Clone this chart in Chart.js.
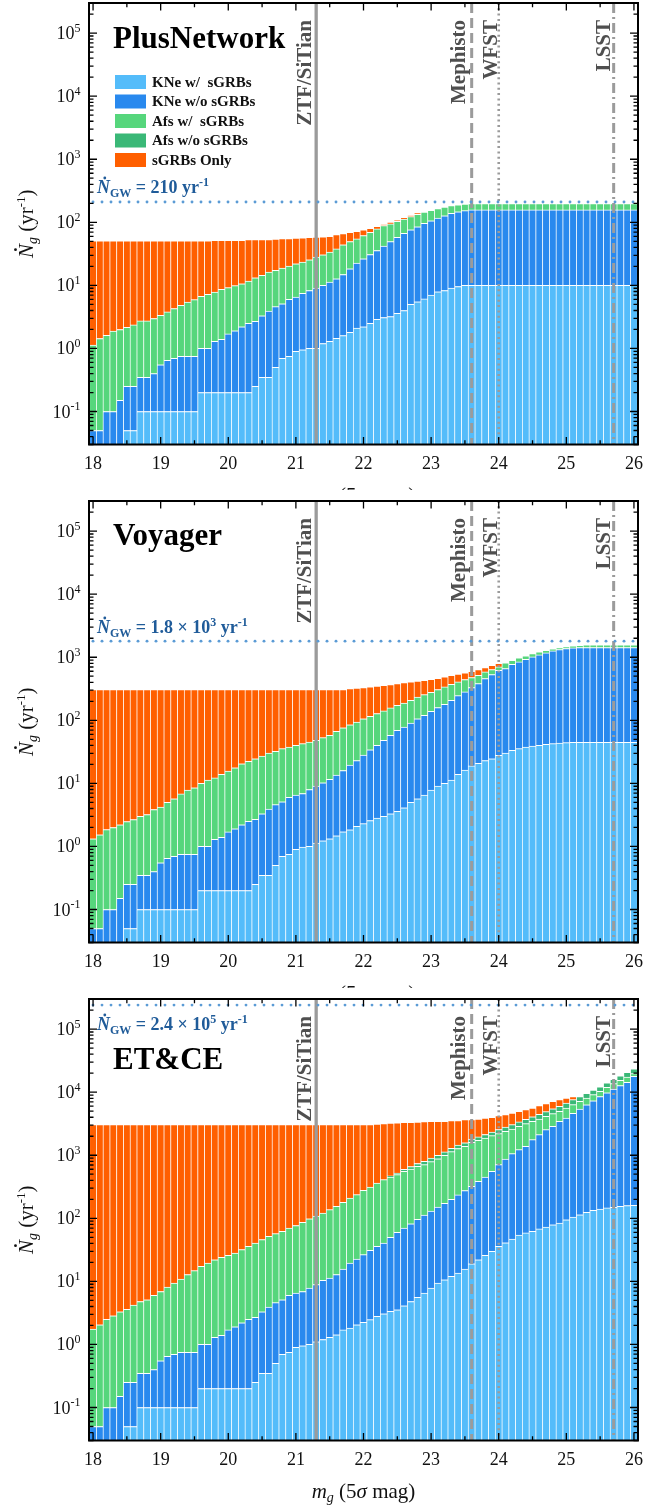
<!DOCTYPE html>
<html>
<head>
<meta charset="utf-8">
<script src="https://cdn.jsdelivr.net/npm/chart.js@4.4.1/dist/chart.umd.min.js"></script>
<style>
  body { margin: 0; background: #fff; width: 671px; height: 1511px; position: relative; overflow: hidden; }
  .panel { position: absolute; left: 0; width: 671px; height: 523px; background: #fff; }
</style>
</head>
<body>
<div class="panel" style="top:-8px"><canvas id="plus" width="671" height="523"></canvas></div>
<div class="panel" style="top:490px"><canvas id="voy" width="671" height="523"></canvas></div>
<div class="panel" style="top:988px"><canvas id="et" width="671" height="523"></canvas></div>
<script>
// g-band limiting magnitude bins (bar centres)
var mags = [18.0,18.1,18.2,18.3,18.4,18.5,18.6,18.7,18.8,18.9,
  19.0,19.1,19.2,19.3,19.4,19.5,19.6,19.7,19.8,19.9,
  20.0,20.1,20.2,20.3,20.4,20.5,20.6,20.7,20.8,20.9,
  21.0,21.1,21.2,21.3,21.4,21.5,21.6,21.7,21.8,21.9,
  22.0,22.1,22.2,22.3,22.4,22.5,22.6,22.7,22.8,22.9,
  23.0,23.1,23.2,23.3,23.4,23.5,23.6,23.7,23.8,23.9,
  24.0,24.1,24.2,24.3,24.4,24.5,24.6,24.7,24.8,24.9,
  25.0,25.1,25.2,25.3,25.4,25.5,25.6,25.7,25.8,25.9,26.0];

// cumulative rates (yr^-1): each array is the top of its layer

// PlusNetwork
var plusKneW = [0,0,0,0,0,0.05,0.05,0.1,0.1,0.1, 0.1,0.1,0.1,0.1,0.1,0.1,0.2,0.2,0.2,0.2,
  0.2,0.2,0.2,0.2,0.25,0.35,0.35,0.5,0.7,0.75, 0.9,0.95,1.0,1.0,1.2,1.3,1.45,1.6,1.8,2.1,
  2.2,2.5,2.9,3.1,3.2,3.6,4.0,5.0,5.5,6.1, 7.0,7.9,8.3,9.1,9.6,10,10,10,10,10,
  10,10,10,10,10,10,10,10,10,10, 10,10,10,10,10,10,10,10,10,10,10];
var plusKneAll = [0.05,0.05,0.1,0.1,0.15,0.25,0.25,0.35,0.35,0.4, 0.55,0.65,0.7,0.75,0.75,0.75,1.0,1.0,1.3,1.4,
  1.7,1.9,2.2,2.5,2.7,3.3,3.9,4.6,5.1,6.0, 6.5,7.5,8.3,9.1,10,11.3,12.7,14.9,18.3,22.5,
  26.4,30.9,35.7,41.8,49.5,58,67,76,85,96, 106,117,127,139,147,153,157,157,157,157,
  157,157,157,157,157,157,157,157,157,157, 157,157,157,157,157,157,157,157,157,157,157];
var plusAfW = [1.13,1.44,1.62,1.88,2.0,2.17,2.36,2.73,2.73,2.98, 3.36,3.79,4.28,4.83,5.45,5.94,6.7,7.2,7.85,8.65,
  9.2,9.9,10.6,11.7,13.2,14.4,16.2,17.3,18.8,20.2, 22,23.4,25.4,28,30.5,33.6,37.9,43.9,49.5,54.6,
  61.5,69.5,78.5,88.6,95,104,113,123,134,145, 155,165,175,184,190,195,198,198,198,198,
  198,198,198,198,198,198,198,198,198,198, 198,198,198,198,198,198,198,198,198,198,198];
var plusAfAll = [1.13,1.44,1.62,1.88,2.0,2.17,2.36,2.73,2.73,2.98, 3.36,3.79,4.28,4.83,5.45,5.94,6.7,7.2,7.85,8.65,
  9.2,9.9,10.6,11.7,13.2,14.4,16.2,17.3,18.8,20.2, 22,23.4,25.4,28,30.5,33.6,37.9,43.9,49.5,54.6,
  61.5,69.5,78.5,88.6,95,104,113,123,134,145, 155,165,175,184,190,195,198,198,198,198,
  198,198,198,198,198,198,198,198,198,198, 198,198,198,198,198,198,198,198,198,198,198];
var plusTotal = [51,51,51,51,51,51,51,51,51,51, 51,51,51,51,51,51,51,51,52,52,
  52,52,52,53,53,53,53,54,55,55, 56,56.6,58,58.5,59,60,63.8,66,69.5,72,
  75.7,80,86,92,100,108,118,128,140,145, 155,165,175,184,190,195,198,198,198,198,
  198,198,198,198,198,198,198,198,198,198, 198,198,198,198,198,198,198,198,198,198,198];

// Voyager
var voyKneW = [0,0,0,0,0,0.05,0.05,0.1,0.1,0.1, 0.1,0.1,0.1,0.1,0.1,0.1,0.2,0.2,0.2,0.2,
  0.2,0.2,0.2,0.2,0.25,0.35,0.35,0.5,0.7,0.75, 0.9,0.98,1.0,1.13,1.23,1.32,1.48,1.71,1.84,2.08,
  2.3,2.57,2.83,3.0,3.3,3.6,4.1,5.0,5.7,6.5, 7.8,9.1,10,11.3,13.9,16.3,18.9,20.8,23,24.6,
  27.8,30.3,33.4,35.5,37.8,39.2,40.1,41.6,42.6,43.7, 44.2,44.8,44.8,44.8,44.8,44.8,44.8,44.8,44.8,44.8,44.8];
var voyKneAll = [0.05,0.05,0.1,0.1,0.15,0.25,0.25,0.35,0.35,0.4, 0.55,0.65,0.7,0.75,0.75,0.75,1.0,1.0,1.3,1.4,
  1.7,1.9,2.2,2.5,2.7,3.3,3.9,4.6,5.1,6.0, 6.5,6.9,8.0,9.1,10.2,11.6,13.5,16,19.5,23,
  28,34,40,48.2,57.8,69.3,78.3,90.7,106,120, 139,159,179,208,246,282,330,382,459,531,
  622,661,775,844,930,1012,1089,1172,1260,1324, 1374,1407,1423,1423,1423,1423,1423,1423,1423,1423,1423];
var voyAfW = [1.32,1.53,1.85,2.0,2.2,2.48,2.67,3.0,3.2,3.85, 4.2,5.0,5.7,6.8,7.8,8.5,10,11.3,12.2,13.9,
  15.7,17.7,20.5,22.3,24.6,27.2,30.3,32.2,35.5,37.8, 40,42.6,45.3,48,53,58,67,76,85,94,
  106,116,128,141,157,173,188,208,234,255, 278,307,338,373,406,442,476,518,585,637,
  702,813,896,976,1050,1143,1215,1291,1356,1423, 1476,1513,1550,1570,1570,1570,1570,1570,1570,1570,1570];
var voyAfAll = [1.32,1.53,1.85,2.0,2.2,2.48,2.67,3.0,3.2,3.85, 4.2,5.0,5.7,6.8,7.8,8.5,10,11.3,12.2,13.9,
  15.7,17.7,20.5,22.3,24.6,27.2,30.3,32.2,35.5,37.8, 40,42.6,45.3,48,53,58,67,76,85,94,
  106,116,128,141,157,173,188,208,234,255, 278,307,338,373,406,442,476,518,585,637,
  702,813,896,976,1050,1143,1215,1291,1356,1423, 1476,1513,1550,1570,1570,1570,1570,1570,1570,1570,1570];
var voyTotal = [307,307,307,307,307,307,307,307,307,307, 307,307,307,307,307,307,307,307,307,307,
  307,307,307,307,307,307,307,307,307,307, 307,307,307,307,307,307,307,307,318,325,
  330,338,348,360,370,382,395,406,418,431, 445,464,488,518,540,564,600,637,685,746,
  800,813,896,976,1050,1143,1215,1291,1356,1423, 1476,1513,1550,1570,1570,1570,1570,1570,1570,1570,1570];

// ET&CE
var etKneW = [0,0,0,0,0,0.05,0.05,0.1,0.1,0.1, 0.1,0.1,0.1,0.1,0.1,0.1,0.2,0.2,0.2,0.2,
  0.2,0.2,0.2,0.2,0.25,0.35,0.35,0.5,0.7,0.75, 0.9,0.95,1.0,1.1,1.2,1.3,1.42,1.7,1.82,2.05,
  2.24,2.47,2.78,3.07,3.34,3.55,4.1,4.8,5.6,6.5, 7.8,9.4,10.6,12,13.5,15.7,19,22,26,30,
  36,41,47,54,58.6,62,67.8,72.9,79,84, 95,105,114,124,134,140,146,149,155,159,161];
var etKneAll = [0.05,0.05,0.1,0.1,0.15,0.25,0.25,0.35,0.35,0.4, 0.55,0.65,0.7,0.75,0.75,0.75,1.0,1.0,1.3,1.4,
  1.7,1.9,2.2,2.5,2.7,3.3,3.9,4.6,5.1,6.0, 6.5,6.9,7.8,8.9,10.4,11.3,12.8,15.7,19.5,22.6,
  26.5,31,36,40.6,50,60,70,82,96,112, 130,150,172,200,235,275,321,386,452,556,
  708,871,1058,1225,1384,1766,2120,2543,2871,3447, 3900,4600,5400,6300,7300,8500,9800,11200,12700,14300,17800];
var etAfW = [1.75,2.05,2.5,2.85,3.3,3.6,4.2,4.8,5.1,6.0, 6.9,8.1,9.4,10.9,12.8,14.8,17.3,19.5,22,24,
  26,28,31.9,36,40.6,46,52,57,62,70, 77,86,98,108,121,137,155,179,210,237,
  278,314,363,410,452,492,556,605,667,708, 790,880,1000,1140,1280,1384,1600,1721,1875,2042,
  2197,2393,2606,2871,3164,3447,3754,4134,4555,4962, 5606,6327,7148,8075,9123,10300,11920,13620,15390,17390,19650];
var etAfAll = [1.75,2.05,2.5,2.85,3.3,3.6,4.2,4.8,5.1,6.0, 6.9,8.1,9.4,10.9,12.8,14.8,17.3,19.5,22,24,
  26,28,31.9,36,40.6,46,52,57,62,70, 77,86,98,108,121,137,155,179,210,237,
  278,314,363,410,470,520,600,660,740,800, 900,1000,1130,1290,1450,1580,1800,1950,2130,2330,
  2550,2800,3050,3380,3720,4060,4450,4900,5450,5950, 6700,7600,8500,9600,10800,12200,14000,16000,18200,20700,23500];
var etTotal = [3050,3050,3050,3050,3050,3050,3050,3050,3050,3050, 3050,3050,3050,3050,3050,3050,3050,3050,3050,3050,
  3050,3050,3050,3050,3050,3050,3050,3050,3050,3050, 3050,3050,3050,3050,3050,3050,3050,3050,3050,3050,
  3050,3050,3125,3180,3243,3260,3320,3330,3363,3405, 3447,3447,3460,3530,3540,3662,3680,3754,3890,3985,
  4236,4393,4667,4962,5273,5606,6107,6564,7148,7598, 8075,8500,8500,9600,10800,12200,14000,16000,18200,20700,23500];

var layerNames = ['KNe w/  sGRBs', 'KNe w/o sGRBs', 'Afs w/  sGRBs', 'Afs w/o sGRBs', 'sGRBs Only'];
var layerColors = ['#54bcfa', '#2989ee', '#56d67c', '#3ab877', '#ff5f00'];

var instruments = ['ZTF/SiTian', 'Mephisto', 'WFST', 'LSST'];
var instrumentMags = [21.3, 23.6, 24.0, 25.7];

var xTicks = [18, 19, 20, 21, 22, 23, 24, 25, 26];
var yTickPowers = [-1, 0, 1, 2, 3, 4, 5];

var panelNames = ['PlusNetwork', 'Voyager', 'ET&CE'];
var ngwRates = [210, 1800, 240000];
var ngwLabels = [['210'], ['1.8 \u00d7 10', '3'], ['2.4 \u00d7 10', '5']];

var SERIF = '"Liberation Serif", "Times New Roman", serif';
var GRAY_LINE = '#9b9b9b';
var GRAY_TEXT = '#4f4f4f';

// label placement for the vertical survey lines: baseline offset (px) left of the line
var instLabelOffset = [5, 6.5, 1.5, 3.5];
var instDash = [[], [10, 5], [2, 3.3], [10, 4, 2, 4]];
var instWidth = [3.3, 3, 2.6, 3];

// draw a run of text pieces left to right; returns total width
function runs(ctx, x, y, parts, measureOnly) {
  var w = 0;
  parts.forEach(function (p) {
    ctx.font = p.f;
    if (!measureOnly) {
      ctx.fillText(p.t, x + w, y + (p.dy || 0));
      if (p.dot) {
        var nw = ctx.measureText(p.t).width;
        ctx.beginPath();
        ctx.arc(x + w + nw * 0.6, y - p.dot, 1.4, 0, Math.PI * 2);
        ctx.fill();
      }
    }
    w += ctx.measureText(p.t).width;
  });
  return w;
}

// each layer is a floating bar from the layer below up to its own top;
// a layer resting on nothing starts at the axis floor
function makeDatasets(levels) {
  return levels.map(function (top, k) {
    return {
      label: layerNames[k],
      data: mags.map(function (m, i) {
        var lo = k === 0 ? 0 : levels[k - 1][i];
        if (!(top[i] > lo)) return { x: m, y: null };
        return { x: m, y: lo > 0 ? [lo, top[i]] : top[i] };
      }),
      backgroundColor: layerColors[k],
      borderColor: '#ffffff',
      borderWidth: { top: 1, left: 0.7, right: 0.7, bottom: 0 },
      borderSkipped: false,
      grouped: false,
      categoryPercentage: 1,
      barPercentage: 1
    };
  });
}

var overlay = {
  id: 'overlay',
  afterDatasetsDraw: function (chart, args, o) {
    var ctx = chart.ctx, a = chart.chartArea;
    var xs = chart.scales.x, ys = chart.scales.y;
    ctx.save();

    // survey depth lines
    instrumentMags.forEach(function (m, k) {
      var px = xs.getPixelForValue(m);
      ctx.strokeStyle = GRAY_LINE;
      ctx.lineWidth = instWidth[k];
      ctx.setLineDash(instDash[k]);
      ctx.lineCap = 'butt';
      ctx.beginPath();
      ctx.moveTo(px, a.top);
      ctx.lineTo(px, a.bottom);
      ctx.stroke();
    });
    ctx.setLineDash([]);

    // GW detection rate (dotted)
    var gy = ys.getPixelForValue(o.ngw);
    ctx.fillStyle = '#5b9bd5';
    for (var dx = a.left + 4; dx < a.right; dx += 9) {
      ctx.beginPath();
      ctx.arc(dx, gy, 1.45, 0, Math.PI * 2);
      ctx.fill();
    }

    // survey labels, rotated
    ctx.fillStyle = GRAY_TEXT;
    ctx.font = 'bold 21px ' + SERIF;
    instrumentMags.forEach(function (m, k) {
      var px = xs.getPixelForValue(m) - instLabelOffset[k];
      ctx.save();
      ctx.translate(px, a.top + 17);
      ctx.rotate(-Math.PI / 2);
      ctx.textAlign = 'right';
      ctx.textBaseline = 'alphabetic';
      ctx.fillText(instruments[k], 0, 0);
      ctx.restore();
    });

    // frame
    ctx.strokeStyle = '#000';
    ctx.lineWidth = 2;
    ctx.strokeRect(a.left, a.top, a.right - a.left, a.bottom - a.top);

    // ticks, pointing inwards on all four sides
    ctx.lineWidth = 1.3;
    ctx.beginPath();
    for (var t = 18; t <= 26.001; t += 0.5) {
      var tx = xs.getPixelForValue(t);
      var len = Math.abs(t - Math.round(t)) < 0.01 ? 7.5 : 4.3;
      ctx.moveTo(tx, a.bottom); ctx.lineTo(tx, a.bottom - len);
      ctx.moveTo(tx, a.top); ctx.lineTo(tx, a.top + len);
    }
    for (var p = -2; p <= 5; p++) {
      for (var d = 1; d <= 9; d++) {
        var v = d * Math.pow(10, p);
        if (v < ys.min || v > ys.max) continue;
        var ty = ys.getPixelForValue(v);
        var l2 = d === 1 ? 8 : 4.5;
        ctx.moveTo(a.left, ty); ctx.lineTo(a.left + l2, ty);
        ctx.moveTo(a.right, ty); ctx.lineTo(a.right - l2, ty);
      }
    }
    ctx.stroke();

    // tick labels
    ctx.fillStyle = '#111';
    ctx.font = '18px ' + SERIF;
    ctx.textAlign = 'center';
    ctx.textBaseline = 'alphabetic';
    xTicks.forEach(function (t) {
      ctx.fillText(String(t), xs.getPixelForValue(t), a.bottom + 24);
    });
    ctx.textAlign = 'left';
    yTickPowers.forEach(function (p) {
      var ty = ys.getPixelForValue(Math.pow(10, p));
      var parts = [{ t: '10', f: '18px ' + SERIF }, { t: String(p), f: '12px ' + SERIF, dy: -7.5 }];
      var w = runs(ctx, 0, 0, parts, true);
      runs(ctx, 80.5 - w, ty + 6, parts);
    });

    // y title
    ctx.save();
    ctx.translate(33, (a.top + a.bottom) / 2);
    ctx.rotate(-Math.PI / 2);
    var yt = [
      { t: 'N', f: 'italic 21px ' + SERIF, dot: 17.5 },
      { t: 'g', f: 'italic 14px ' + SERIF, dy: 4 },
      { t: ' (yr', f: '21px ' + SERIF },
      { t: '-1', f: '13px ' + SERIF, dy: -8.5 },
      { t: ')', f: '21px ' + SERIF }
    ];
    runs(ctx, -runs(ctx, 0, 0, yt, true) / 2, 0, yt);
    ctx.restore();

    // x title
    var xt = [
      { t: 'm', f: 'italic 21px ' + SERIF },
      { t: 'g', f: 'italic 14px ' + SERIF, dy: 4 },
      { t: ' (5', f: '21px ' + SERIF },
      { t: '\u03c3', f: 'italic 21px ' + SERIF },
      { t: ' mag)', f: '21px ' + SERIF }
    ];
    runs(ctx, (a.left + a.right) / 2 - runs(ctx, 0, 0, xt, true) / 2, a.bottom + 57.5, xt);

    // panel name
    ctx.fillStyle = '#000';
    ctx.font = 'bold 31px ' + SERIF;
    ctx.fillText(o.name, 113, o.nameY);

    // GW rate label
    ctx.fillStyle = '#1f5b99';
    var gl = [
      { t: 'N', f: 'italic bold 18px ' + SERIF, dot: 15 },
      { t: 'GW', f: 'bold 12px ' + SERIF, dy: 4 },
      { t: ' = ' + o.ngwText[0], f: 'bold 18px ' + SERIF }
    ];
    if (o.ngwText[1]) gl.push({ t: o.ngwText[1], f: 'bold 12px ' + SERIF, dy: -7.5 });
    gl.push({ t: ' yr', f: 'bold 18px ' + SERIF });
    gl.push({ t: '-1', f: 'bold 12px ' + SERIF, dy: -7.5 });
    runs(ctx, 97, o.ngwY, gl);

    // legend
    if (o.legend) {
      ctx.textBaseline = 'middle';
      layerNames.forEach(function (n, k) {
        var cy = 90 + k * 19.5;
        ctx.fillStyle = layerColors[k];
        ctx.fillRect(115, cy - 7, 31, 14);
        ctx.fillStyle = '#111';
        ctx.font = 'bold 15px ' + SERIF;
        ctx.fillText(n, 152, cy + 1);
      });
    }
    ctx.restore();
  }
};

function makePanel(id, levels, k, extra) {
  new Chart(document.getElementById(id), {
    type: 'bar',
    data: { datasets: makeDatasets(levels) },
    options: {
      responsive: false,
      animation: false,
      devicePixelRatio: 1,
      layout: { padding: { left: 89, right: 33, top: 11, bottom: 70.5 } },
      scales: {
        x: { type: 'linear', min: 17.94, max: 26.06, offset: false, display: false },
        y: { type: 'logarithmic', min: 0.03, max: 3e5, display: false }
      },
      plugins: {
        legend: { display: false },
        tooltip: { enabled: false },
        overlay: Object.assign({
          name: panelNames[k],
          ngw: ngwRates[k],
          ngwText: ngwLabels[k]
        }, extra)
      }
    },
    plugins: [overlay]
  });
}

makePanel('plus', [plusKneW, plusKneAll, plusAfW, plusAfAll, plusTotal], 0, { nameY: 56, ngwY: 201, legend: true });
makePanel('voy', [voyKneW, voyKneAll, voyAfW, voyAfAll, voyTotal], 1, { nameY: 55, ngwY: 143, legend: false });
makePanel('et', [etKneW, etKneAll, etAfW, etAfAll, etTotal], 2, { nameY: 81, ngwY: 42, legend: false });
</script>
</body>
</html>
